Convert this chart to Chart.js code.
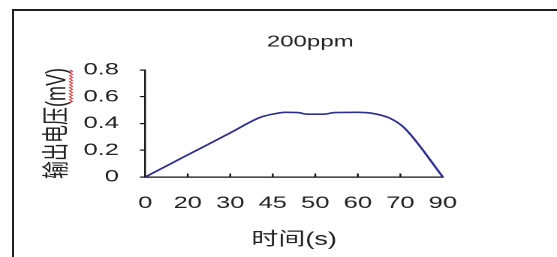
<!DOCTYPE html>
<html>
<head>
<meta charset="utf-8">
<script src="https://cdn.jsdelivr.net/npm/chart.js@4.4.1/dist/chart.umd.min.js"></script>
<style>
    html, body { margin: 0; padding: 0; background: #fff; overflow: hidden; }
    body { width: 557px; height: 257px; position: relative; }
    #frame {
        position: absolute; left: 12px; top: 9px; width: 560px; height: 260px;
        border-left: 2px solid #1e1e1e; border-top: 2px solid #1e1e1e;
    }
    /* the reference is stretched sideways, so the chart is drawn narrow and widened */
    #wrap {
        position: absolute; left: 0; top: 0; width: 371px; height: 257px;
        transform: scaleX(1.5013); transform-origin: 0 0;
    }
</style>
</head>
<body>
<div id="frame"></div>
<div id="wrap"><canvas id="chart" width="371" height="257"></canvas></div>
<script>
// Données
const titleText = '200ppm';
const xTitle = '时间(s)';
const yTitle = '输出电压(mV)';
const timeLabels = ['0', '20', '30', '45', '50', '60', '70', '90'];
// position le long de l'axe (en rang de graduation) et tension
const samplePos = [0, 1, 2, 2.7, 3, 3.3, 3.6, 3.8, 4.2, 4.45, 5, 5.3, 5.75, 6.1, 7];
const voltage = [0, 0.165, 0.33, 0.445, 0.47, 0.484, 0.482, 0.47, 0.47, 0.482, 0.484, 0.478, 0.44, 0.365, 0];

const textColor = '#222';
const axisColor = '#111';
const latinFont = "'Liberation Sans', Arial, 'Noto Sans CJK SC', sans-serif";

// Graduations intérieures sur l'axe des x, titre et soulignement rouge
const extras = {
    id: 'extras',
    afterDraw(chart) {
        const ctx = chart.ctx;
        const xs = chart.scales.x;
        const ys = chart.scales.y;
        ctx.save();
        ctx.strokeStyle = axisColor;
        ctx.lineWidth = 1.2;
        for (let i = 1; i < timeLabels.length - 1; i++) {
            const px = xs.getPixelForValue(i);
            ctx.beginPath();
            ctx.moveTo(px, xs.top);
            ctx.lineTo(px, xs.top - 3.5);
            ctx.stroke();
        }

        ctx.fillStyle = textColor;
        ctx.font = '16px ' + latinFont;
        ctx.textAlign = 'center';
        ctx.textBaseline = 'middle';
        ctx.fillText(titleText, chart.width * 0.557, 42);

        // vaguelette rouge du correcteur sous "mV"
        const yOpts = ys.options.title;
        const size = yOpts.font.size;
        ctx.font = size + 'px ' + latinFont;
        const full = ctx.measureText(yTitle).width;
        const tail = ctx.measureText('(mV)').width;
        const close = ctx.measureText(')').width;
        const cx = ys.left + yOpts.padding.top + size * 1.2 / 2;
        const cy = (ys.top + ys.bottom) / 2;
        const top = cy - full / 2;
        const x0 = cx + size * 0.5;
        ctx.strokeStyle = '#d0312d';
        ctx.lineWidth = 0.8;
        ctx.beginPath();
        let k = 0;
        for (let y = top + close * 0.3; y <= top + tail - close * 0.6; y += 1.5, k++) {
            const x = x0 + (k % 2 ? 1 : -1);
            if (k === 0) ctx.moveTo(x, y); else ctx.lineTo(x, y);
        }
        ctx.stroke();
        ctx.restore();
    }
};

const chart = new Chart(document.getElementById('chart'), {
    type: 'line',
    data: {
        datasets: [{
            label: titleText,
            data: samplePos.map((p, i) => ({ x: p, y: voltage[i] })),
            borderColor: '#2d2d8c',
            borderWidth: 1.6,
            pointRadius: 0,
            cubicInterpolationMode: 'monotone',
            clip: false
        }]
    },
    options: {
        responsive: false,
        animation: false,
        devicePixelRatio: 2,
        layout: { padding: { left: 10, right: 76, top: 70, bottom: 3 } },
        plugins: {
            legend: { display: false },
            title: { display: false },
            tooltip: { enabled: false }
        },
        scales: {
            x: {
                type: 'linear',
                min: 0,
                max: 7,
                grid: { display: false, drawTicks: false },
                border: { display: true, color: axisColor, width: 1.2 },
                ticks: {
                    stepSize: 1,
                    autoSkip: false,
                    maxRotation: 0,
                    padding: 16,
                    color: textColor,
                    font: { family: latinFont, size: 17 },
                    callback: v => timeLabels[v]
                },
                title: {
                    display: true,
                    text: xTitle,
                    color: textColor,
                    font: { family: latinFont, size: 18 },
                    padding: { top: 1, bottom: 3 }
                },
                afterFit: scale => { scale.height = 77; }
            },
            y: {
                min: 0,
                max: 0.8,
                grid: { drawOnChartArea: false, drawTicks: true, tickLength: 3.5, color: axisColor, lineWidth: 1.2 },
                border: { display: true, color: axisColor, width: 1.2 },
                ticks: {
                    stepSize: 0.2,
                    padding: 14,
                    color: textColor,
                    font: { family: latinFont, size: 17 },
                    callback: v => v === 0 ? '0' : v.toFixed(1)
                },
                title: {
                    display: true,
                    text: yTitle,
                    color: textColor,
                    font: { family: latinFont, size: 18 },
                    padding: { top: 17.5, bottom: 0 }
                },
                afterFit: scale => { scale.width = 86.7; }
            }
        }
    },
    plugins: [extras]
});
</script>
</body>
</html>
